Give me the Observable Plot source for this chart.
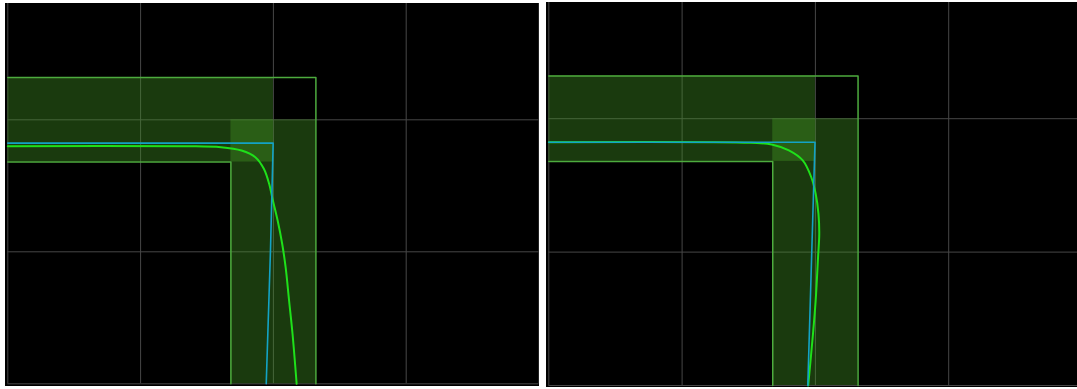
<!DOCTYPE html>
<html>
<head>
<meta charset="utf-8">
<script src="https://cdn.jsdelivr.net/npm/d3@7"></script>
<script src="https://cdn.jsdelivr.net/npm/@observablehq/plot@0.6"></script>
<style>
  html, body { margin: 0; padding: 0; background: #fff; }
  #wrap { position: relative; width: 1077px; height: 389px; overflow: hidden; background: #fff; }
  .panel { position: absolute; }
  .panel svg { display: block; background: #000; }
</style>
</head>
<body>
<div id="wrap">
  <div id="left" class="panel"></div>
  <div id="right" class="panel"></div>
</div>
<script>
// Tolerance band around the nominal corner at (2, 2): a horizontal and a vertical strip
const stripX1 = [0, 1.68];
const stripX2 = [2, 2.32];
const stripY1 = [1.68, 0];
const stripY2 = [2.32, 2];

// Edges of the band
const outerEdgeX = [0, 2.32, 2.32];
const outerEdgeY = [2.32, 2.32, 0];
const innerEdgeX = [0, 1.68, 1.68];
const innerEdgeY = [1.68, 1.68, 0];

// Grid ticks
const gridXTicks = [0, 1, 2, 3, 4];
const gridYTicks = [0, 1, 2];

// Left panel: reference (cyan) and response (green)
const leftRefX = [0, 1.998, 1.978, 1.946];
const leftRefY = [1.823, 1.823, 1.01, 0];
const leftRespX = [0, 1.346, 1.605, 1.760, 1.864, 1.928, 1.968, 1.993, 2.032, 2.066, 2.092, 2.118, 2.144, 2.175];
const leftRespY = [1.800, 1.800, 1.792, 1.767, 1.717, 1.629, 1.515, 1.402, 1.237, 1.061, 0.883, 0.631, 0.379, 0];

// Right panel: reference (cyan) and response (green)
const rightRefX = [0, 1.997, 1.973, 1.943];
const rightRefY = [1.824, 1.824, 1.01, 0];
const rightRespX = [0, 1.517, 1.672, 1.801, 1.905, 1.969, 2.002, 2.023, 2.029, 2.020, 2.002, 1.982, 1.946];
const rightRespY = [1.824, 1.819, 1.807, 1.762, 1.687, 1.561, 1.437, 1.287, 1.137, 0.962, 0.637, 0.388, 0];

const zip = (xs, ys) => xs.map((x, i) => ({x, y: ys[i]}));

const strips = stripX1.map((x1, i) => ({x1, x2: stripX2[i], y1: stripY1[i], y2: stripY2[i]}));

function panel({width, height, marginLeft, marginRight, marginBottom, xMax, yMax, refX, refY, respX, respY}) {
  return Plot.plot({
    width, height,
    marginLeft, marginRight, marginTop: 0, marginBottom,
    style: {background: "#000"},
    x: {domain: [0, xMax], axis: null},
    y: {domain: [0, yMax], axis: null},
    marks: [
      Plot.gridX(gridXTicks.filter(t => t <= xMax + 1e-9), {stroke: "#474747", strokeOpacity: 1, strokeWidth: 1}),
      Plot.gridY(gridYTicks, {stroke: "#474747", strokeOpacity: 1, strokeWidth: 1}),
      Plot.rect(strips, {x1: "x1", x2: "x2", y1: "y1", y2: "y2", fill: "#449925", fillOpacity: 0.38}),
      Plot.line(zip(outerEdgeX, outerEdgeY), {x: "x", y: "y", stroke: "#4dab3e", strokeWidth: 1.5}),
      Plot.line(zip(innerEdgeX, innerEdgeY), {x: "x", y: "y", stroke: "#4dab3e", strokeWidth: 1.5}),
      Plot.line(zip(respX, respY), {x: "x", y: "y", stroke: "#1fe01a", strokeWidth: 2, curve: "catmull-rom"}),
      Plot.line(zip(refX, refY), {x: "x", y: "y", stroke: "#13a3c6", strokeWidth: 1.6})
    ]
  });
}

const left = document.getElementById("left");
left.style.left = "5px";
left.style.top = "3px";
left.append(panel({
  width: 534, height: 383,
  marginLeft: 2.3, marginRight: 0.5, marginBottom: 2.7,
  xMax: 4, yMax: 380.3 / 132,
  refX: leftRefX, refY: leftRefY, respX: leftRespX, respY: leftRespY
}));

const right = document.getElementById("right");
right.style.left = "546px";
right.style.top = "2px";
right.append(panel({
  width: 531, height: 385,
  marginLeft: 2.3, marginRight: 0, marginBottom: 2,
  xMax: 528.7 / 133.3, yMax: 383 / 133.4,
  refX: rightRefX, refY: rightRefY, respX: rightRespX, respY: rightRespY
}));
</script>
</body>
</html>
